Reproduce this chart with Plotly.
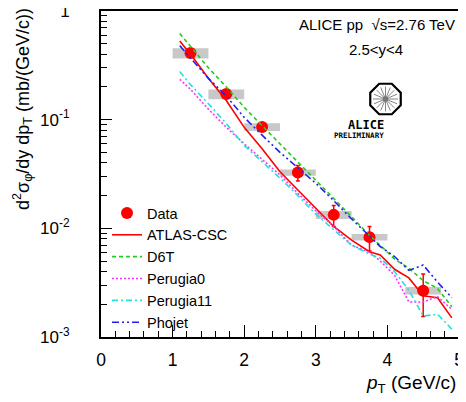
import plotly.graph_objects as go
import math

# measured phi cross section (ALICE, pp 2.76 TeV, 2.5<y<4)
data_pt = [1.25, 1.75, 2.25, 2.75, 3.25, 3.75, 4.5]
data_val = [0.41, 0.172, 0.0857, 0.0326, 0.0133, 0.0083, 0.00267]
data_stat = [0.03, 0.012, 0.006, 0.0053, 0.0029, 0.0021, 0.00113]
data_sys = [0.045, 0.018, 0.0069, 0.0021, 0.0011, 0.00058, 0.00021]
box_halfwidth = [0.25, 0.25, 0.25, 0.25, 0.25, 0.25, 0.25]

# model curves
model_pt = [1.1, 1.25, 1.5, 1.75, 2.0, 2.25, 2.5, 2.75, 3.0, 3.25, 3.5, 3.75, 3.9, 4.1, 4.3, 4.5, 4.7, 4.9]
atlas_csc = [0.53, 0.40, 0.24, 0.15, 0.085, 0.054, 0.0332, 0.0225, 0.0153, 0.0104, 0.0078, 0.0061,
             0.0057, 0.0042, 0.0035, 0.0024, 0.0023, 0.0015]
d6t = [0.62, 0.47, 0.30, 0.20, 0.13, 0.088, 0.060, 0.041, 0.028, 0.019, 0.0128, 0.0086,
       0.0070, 0.0052, 0.0043, 0.0033, 0.0028, 0.0019]
perugia0 = [0.235, 0.19, 0.125, 0.085, 0.060, 0.043, 0.031, 0.021, 0.0145, 0.0104, 0.0070, 0.0060,
            0.0050, 0.0037, 0.0021, 0.0021, 0.00235, 0.0018]
perugia11 = [0.277, 0.21, 0.14, 0.092, 0.058, 0.041, 0.029, 0.020, 0.0135, 0.0097, 0.0070, 0.0058,
             0.0053, 0.0040, 0.0027, 0.00156, 0.00162, 0.00118]
phojet = [0.48, 0.37, 0.24, 0.165, 0.105, 0.072, 0.050, 0.036, 0.026, 0.018, 0.0122, 0.0085,
          0.0068, 0.0055, 0.0041, 0.0046, 0.0032, 0.0023]

y_tickvals = [1, 0.1, 0.01, 0.001]
y_ticktext = ["1", "10<sup>-1</sup>", "10<sup>-2</sup>", "10<sup>-3</sup>"]

# page body has an 8px margin, so the figure is drawn 8px in from the window corner
OFF = 8
W, H = 466 - OFF, 402 - OFF
L, R, T, B = 101 - OFF, 7, 11 - OFF, 65
PW, PH = W - L - R, H - T - B


# helpers take window pixel positions (as measured on the reference)
def px(x):
    return (x - OFF - L) / PW


def py(y):
    return (H - B - (y - OFF)) / PH


FONT = "Liberation Sans, Arial, sans-serif"
fig = go.Figure()

# systematic boxes
bx, by = [], []
for x, v, s, hw in zip(data_pt, data_val, data_sys, box_halfwidth):
    bx += [x - hw, x + hw, x + hw, x - hw, x - hw, None]
    by += [v - s, v - s, v + s, v + s, v - s, None]
fig.add_trace(go.Scatter(x=bx, y=by, mode="lines", fill="toself", fillcolor="#c8c8c8",
                         line=dict(width=0), hoverinfo="skip", showlegend=False))

fig.add_trace(go.Scatter(x=data_pt, y=data_val, mode="markers", name="Data",
                         marker=dict(color="red", size=12, symbol="circle"),
                         error_y=dict(type="data", array=data_stat, color="red", thickness=1.5, width=2)))

models = [
    ("ATLAS-CSC", atlas_csc, "red", "solid"),
    ("D6T", d6t, "#22cc22", "4px,3px"),
    ("Perugia0", perugia0, "#ff33ff", "2px,2px"),
    ("Perugia11", perugia11, "#22e0e0", "6px,3px,2px,3px"),
    ("Phojet", phojet, "#2222ee", "7px,3px,2px,3px,2px,3px"),
]
for name, vals, col, dash in models:
    fig.add_trace(go.Scatter(x=model_pt, y=vals, mode="lines", name=name,
                             line=dict(color=col, width=1.6, dash=dash)))

# labels
fig.add_annotation(x=px(457), y=py(25), xref="paper", yref="paper", xanchor="right", yanchor="middle",
                   text="ALICE pp  √s=2.76 TeV", showarrow=False, font=dict(size=15, color="black", family=FONT))
fig.add_annotation(x=px(376), y=py(50), xref="paper", yref="paper", xanchor="center", yanchor="middle",
                   text="2.5&lt;y&lt;4", showarrow=False, font=dict(size=15, color="black", family=FONT))
fig.add_annotation(x=px(458), y=py(384), xref="paper", yref="paper", xanchor="right", yanchor="middle",
                   text="<i>p</i><sub>T</sub> (GeV/c)", showarrow=False, font=dict(size=19, color="black", family=FONT))
fig.add_annotation(x=px(22), y=py(6), xref="paper", yref="paper", xanchor="center", yanchor="top",
                   textangle=-90, text="d<sup>2</sup>σ<sub>φ</sub>/dy dp<sub>T</sub> (mb/(GeV/c))",
                   showarrow=False, font=dict(size=18, color="black", family=FONT))

# ALICE preliminary logo
cx, cy, r = 385.5, 99, 16.5
oct_pts = [(cx + r * math.cos(math.radians(22.5 + 45 * k)), cy + r * math.sin(math.radians(22.5 + 45 * k)))
           for k in range(8)]
path = "M " + " L ".join(f"{px(a):.4f},{py(b):.4f}" for a, b in oct_pts) + " Z"
fig.add_shape(type="path", path=path, xref="paper", yref="paper", line=dict(color="black", width=2.2))
for k in range(16):
    a = math.radians(k * 22.5)
    fig.add_shape(type="line", xref="paper", yref="paper",
                  x0=px(cx + 3 * math.cos(a)), y0=py(cy + 3 * math.sin(a)),
                  x1=px(cx + 12.5 * math.cos(a)), y1=py(cy + 12.5 * math.sin(a)),
                  line=dict(color="#666666", width=0.8))
fig.add_shape(type="circle", xref="paper", yref="paper", x0=px(cx - 3), x1=px(cx + 3), y0=py(cy - 3), y1=py(cy + 3),
              fillcolor="#777777", line=dict(width=0))
fig.add_annotation(x=px(cx), y=py(125), xref="paper", yref="paper", text="<b>ALICE</b>", showarrow=False,
                   font=dict(size=12, color="black", family="DejaVu Sans Mono"))
fig.add_annotation(x=px(cx), y=py(135.5), xref="paper", yref="paper", text="<b>PRELIMINARY</b>", showarrow=False,
                   font=dict(size=7.5, color="black", family="DejaVu Sans Mono"))

fig.update_layout(
    width=W, height=H,
    margin=dict(l=L, r=R, t=T, b=B, autoexpand=False),
    plot_bgcolor="white", paper_bgcolor="white",
    font=dict(family=FONT, size=17, color="black"),
    showlegend=True,
    legend=dict(x=px(107), y=py(197), xanchor="left", yanchor="top", bgcolor="rgba(0,0,0,0)",
                font=dict(size=14.5, family=FONT), tracegroupgap=0),
)
fig.update_xaxes(range=[0, 5], showline=True, linecolor="black", linewidth=2, mirror=True,
                 ticks="inside", ticklen=12, tickwidth=1, tickcolor="black", dtick=1,
                 minor=dict(ticks="inside", ticklen=6, dtick=0.2, tickcolor="black"),
                 showgrid=False, zeroline=False, ticklabelstandoff=6, tickfont=dict(size=17.5),
                 automargin=False, ticklabeloverflow="allow")
fig.update_yaxes(type="log", range=[-3, 0], showline=True, linecolor="black", linewidth=2, mirror=True,
                 ticks="inside", ticklen=11, tickwidth=1, tickcolor="black",
                 tickvals=y_tickvals, ticktext=y_ticktext,
                 minor=dict(ticks="inside", ticklen=6, tickcolor="black",
                            tickvals=[m * 10 ** e for e in (-3, -2, -1) for m in range(2, 10)]),
                 showgrid=False, zeroline=False, ticklabelstandoff=26, tickfont=dict(size=17),
                 automargin=False, ticklabeloverflow="allow")

fig.write_html("out.html")
